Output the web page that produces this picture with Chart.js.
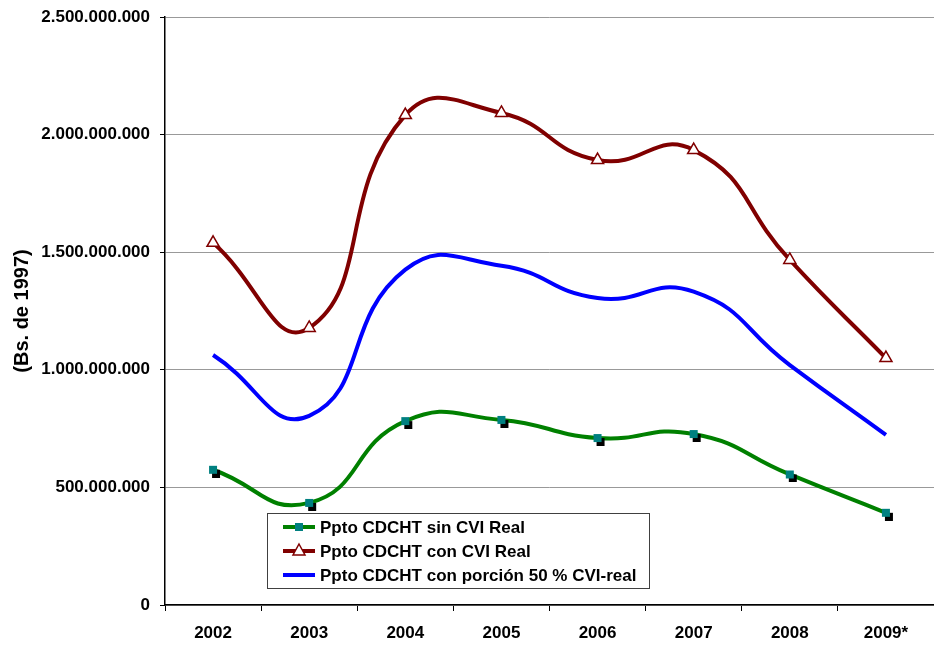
<!DOCTYPE html>
<html>
<head>
<meta charset="utf-8">
<script src="https://cdn.jsdelivr.net/npm/chart.js@4"></script>
<style>
	html,body{margin:0;padding:0;background:#fff;}
	#wrap{width:934px;height:648px;position:relative;}
</style>
</head>
<body>
<div id="wrap"><canvas id="presupuestoCanvas" width="934" height="648"></canvas></div>
<script>
	/* 데이터 */
	const years = ['2002','2003','2004','2005','2006','2007','2008','2009*']
	const sinCVI = [575e6, 434e6, 782e6, 787e6, 710e6, 727e6, 555e6, 392e6]
	const conCVI = [1540e6, 1178e6, 2083e6, 2092e6, 1892e6, 1934e6, 1467e6, 1050e6]
	const porcion50 = [1063e6, 804e6, 1426e6, 1442e6, 1305e6, 1332e6, 1020e6, 723e6]
	const yTicks = [0, 500e6, 1000e6, 1500e6, 2000e6, 2500e6]

	const legendLabels = ['Ppto CDCHT sin CVI Real','Ppto CDCHT con CVI Real','Ppto CDCHT con porción 50 % CVI-real']

	const GREEN = '#008000'
	const RED = '#800000'
	const BLUE = '#0000ff'
	const TEAL = '#008080'
	const FONT = 'Liberation Sans, Arial, sans-serif'

	function puntos(v){
		return String(v).replace(/\B(?=(\d{3})+(?!\d))/g,'.')
	}

	/* 초록색 마커 (그림자 있는 사각형) */
	function squareMarker(){
		let c = document.createElement('canvas')
		c.width = 16
		c.height = 16
		let ctx = c.getContext('2d')
		ctx.fillStyle = '#000'
		ctx.fillRect(7,8,8,8)
		ctx.fillStyle = TEAL
		ctx.fillRect(4,4,8,8)
		return c
	}

	/* 범례 그리기 */
	const boxLegend = {
		id : 'boxLegend'
		,afterDraw(chart){
			const ctx = chart.ctx
			ctx.save()
			ctx.fillStyle = '#fff'
			ctx.fillRect(267.5,513.5,382,75)
			ctx.strokeStyle = '#404040'
			ctx.lineWidth = 1
			ctx.strokeRect(267.5,513.5,382,75)

			const rows = [527,551,575]
			const colors = [GREEN,RED,BLUE]
			for(let i=0;i<3;i++){
				let y = rows[i]
				ctx.strokeStyle = colors[i]
				ctx.lineWidth = 4
				ctx.beginPath()
				ctx.moveTo(283,y)
				ctx.lineTo(315,y)
				ctx.stroke()
				if(i==0){
					ctx.fillStyle = TEAL
					ctx.fillRect(295,y-4,8,8)
				}
				if(i==1){
					ctx.fillStyle = '#fff'
					ctx.strokeStyle = RED
					ctx.lineWidth = 1.5
					ctx.beginPath()
					ctx.moveTo(299,y-7)
					ctx.lineTo(305,y+4)
					ctx.lineTo(293,y+4)
					ctx.closePath()
					ctx.fill()
					ctx.stroke()
				}
				ctx.fillStyle = '#000'
				ctx.font = 'bold 17px ' + FONT
				ctx.textBaseline = 'middle'
				ctx.textAlign = 'left'
				ctx.fillText(legendLabels[i],320,y+1)
			}
			ctx.restore()
		}
	}

	const chart = new Chart(document.getElementById('presupuestoCanvas'),{
		type : 'line'
		,data : {
			labels : years
			,datasets : [
				{
					label : legendLabels[0]
					,data : sinCVI
					,borderColor : GREEN
					,borderWidth : 4
					,tension : 0.5
					,pointStyle : squareMarker()
					,pointRadius : 6
				}
				,{
					label : legendLabels[1]
					,data : conCVI
					,borderColor : RED
					,borderWidth : 4
					,tension : 0.5
					,pointStyle : 'triangle'
					,pointRadius : 7
					,pointBackgroundColor : '#fff'
					,pointBorderColor : RED
					,pointBorderWidth : 1.5
				}
				,{
					label : legendLabels[2]
					,data : porcion50
					,borderColor : BLUE
					,borderWidth : 4
					,tension : 0.5
					,pointRadius : 0
				}
			]
		}
		,options : {
			responsive : false
			,animation : false
			,layout : {
				autoPadding : false
				,padding : { top : 17, right : 0, left : 0, bottom : 0 }
			}
			,plugins : {
				legend : { display : false }
				,tooltip : { enabled : false }
			}
			,scales : {
				x : {
					offset : true
					,grid : {
						offset : true
						,drawOnChartArea : false
						,color : '#000'
						,tickLength : 6
					}
					,border : { color : '#000', width : 1.5 }
					,ticks : {
						color : '#000'
						,padding : 12
						,font : { family : FONT, size : 17, weight : 'bold' }
						,maxRotation : 0
					}
					,afterFit(scale){
						scale.height = 43
						scale.paddingLeft = 0
						scale.paddingRight = 0
					}
				}
				,y : {
					min : 0
					,max : 2500e6
					,grid : {
						color : '#999999'
						,tickColor : '#000'
						,tickLength : 5
					}
					,border : { color : '#000', width : 1.5 }
					,afterBuildTicks(scale){
						scale.ticks = yTicks.map(v => ({ value : v }))
					}
					,ticks : {
						color : '#000'
						,padding : 10
						,font : { family : FONT, size : 17, weight : 'bold' }
						,callback : function(v){ return puntos(v) }
					}
					,title : {
						display : true
						,text : '(Bs. de 1997)'
						,color : '#000'
						,font : { family : FONT, size : 20, weight : 'bold' }
						,padding : { top : 10, bottom : 0 }
					}
					,afterFit(scale){
						scale.width = 165
						scale.paddingTop = 0
						scale.paddingBottom = 0
					}
				}
			}
		}
		,plugins : [boxLegend]
	})
</script>
</body>
</html>
